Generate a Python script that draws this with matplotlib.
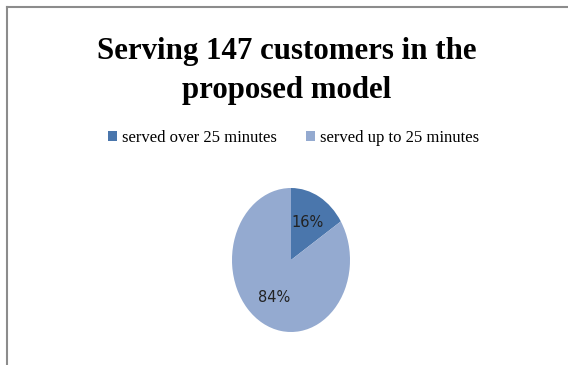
import matplotlib.pyplot as plt
from matplotlib.lines import Line2D
from matplotlib.patches import Patch

# data
labels = ['served over 25 minutes', 'served up to 25 minutes']
values = [16, 84]
colors = ['#4A76AC', '#94AAD0']
title = 'Serving 147 customers in the\nproposed model'

fig = plt.figure(figsize=(5.68, 3.65), dpi=100)
fig.patch.set_facecolor('white')

# frame lines (left and top only visible)
fig.add_artist(Line2D([7 / 568, 7 / 568], [0, 1 - 7 / 365], transform=fig.transFigure,
                      color='#8C8C8C', lw=1.5))
fig.add_artist(Line2D([7 / 568, 1], [1 - 7 / 365, 1 - 7 / 365], transform=fig.transFigure,
                      color='#8C8C8C', lw=1.5))

fig.text(0.504, 0.8065, title, ha='center', va='center', family='Liberation Serif',
         fontweight='bold', fontsize=22.2, linespacing=1.45)

# pie, stretched vertically like the original
ax = fig.add_axes([232 / 568, 33 / 365, 118 / 568, 144 / 365])
wedges, texts, autotexts = ax.pie(values, colors=colors, startangle=90, counterclock=False,
                                  autopct='%1.0f%%', pctdistance=0.6,
                                  textprops={'family': 'DejaVu Sans', 'fontsize': 10.5,
                                             'color': '#222222'})
ax.set_aspect('auto')
ax.set_xlim(-1, 1)
ax.set_ylim(-1, 1)

handles = [Patch(facecolor=c, edgecolor='none') for c in colors]
fig.legend(handles, labels, loc='center', bbox_to_anchor=(0.517, 0.622), ncol=2, frameon=False,
           prop={'family': 'Liberation Serif', 'size': 12}, handlelength=0.55, handleheight=0.55,
           handletextpad=0.3, columnspacing=1.7)

fig.savefig('out.png', dpi=100)
